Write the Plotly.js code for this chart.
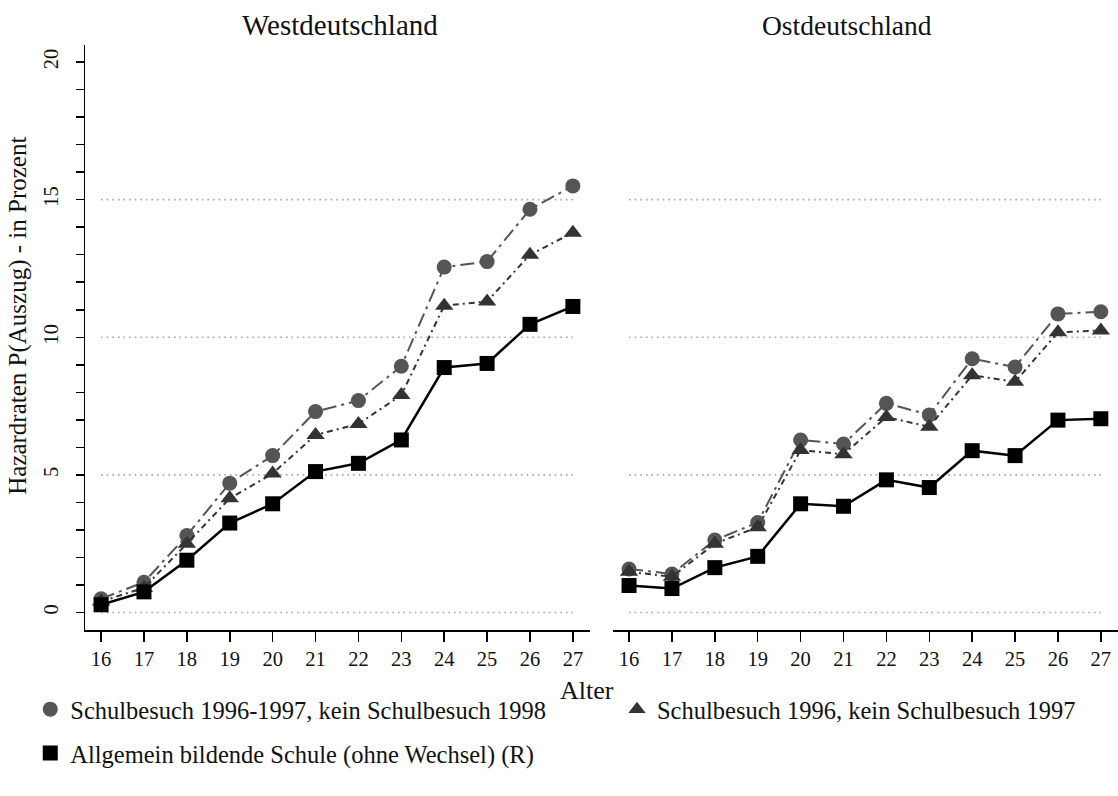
<!DOCTYPE html>
<html>
<head>
<meta charset="utf-8">
<script src="https://cdn.plot.ly/plotly-3.0.1.min.js"></script>
<style>html,body{margin:0;padding:0;background:#fff;}#chart{width:1118px;height:796px;}</style>
</head>
<body>
<div id="chart"></div>
<script>
// ---- data ----
const ages = [16,17,18,19,20,21,22,23,24,25,26,27];
const panelTitles = ["Westdeutschland", "Ostdeutschland"];
const seriesNames = [
  "Schulbesuch 1996-1997, kein Schulbesuch 1998",
  "Schulbesuch 1996, kein Schulbesuch 1997",
  "Allgemein bildende Schule (ohne Wechsel) (R)"
];
// Westdeutschland
const westCircle   = [0.5, 1.1, 2.8, 4.7, 5.7, 7.3, 7.7, 8.95, 12.55, 12.75, 14.65, 15.5];
const westTriangle = [0.4, 0.9, 2.5, 4.15, 5.05, 6.45, 6.85, 7.9, 11.15, 11.3, 13.0, 13.8];
const westSquare   = [0.28, 0.75, 1.9, 3.25, 3.95, 5.12, 5.42, 6.27, 8.9, 9.05, 10.47, 11.12];
// Ostdeutschland
const eastCircle   = [1.58, 1.4, 2.63, 3.27, 6.27, 6.12, 7.6, 7.18, 9.22, 8.92, 10.85, 10.93];
const eastTriangle = [1.48, 1.3, 2.5, 3.1, 5.9, 5.75, 7.1, 6.75, 8.62, 8.38, 10.18, 10.25];
const eastSquare   = [0.98, 0.87, 1.63, 2.04, 3.95, 3.86, 4.82, 4.54, 5.88, 5.7, 6.99, 7.04];
const yMinorTicks = [0,1,2,3,4,5,6,7,8,9,10,11,12,13,14,15,16,17,18,19,20];
const yMajorTicks = [0,5,10,15,20];
const gridValues = [0,5,10,15];
const xTitle = "Alter";
const yTitle = "Hazardraten P(Auszug) - in Prozent";

// ---- styles ----
const FONT = "Liberation Serif, Times New Roman, serif";
const styles = [
  {symbol:"circle", color:"#555555", dash:"14px,5px,3px,5px", width:2},
  {symbol:"triangle-up", color:"#333333", dash:"6px,4px,2px,4px", width:2},
  {symbol:"square", color:"#000000", dash:"solid", width:2.5}
];
const legendPos = [
  {id:"legend",  x:-0.053, y:-0.097},
  {id:"legend2", x:0.515,  y:-0.097},
  {id:"legend3", x:-0.053, y:-0.172}
];
const panels = [
  {xa:"x", ya:"y", data:[westCircle, westTriangle, westSquare]},
  {xa:"x2", ya:"y2", data:[eastCircle, eastTriangle, eastSquare]}
];

const traces = [];
panels.forEach(p => {
  p.data.forEach((vals, i) => {
    const s = styles[i];
    traces.push({
      x: ages, y: vals, xaxis: p.xa, yaxis: p.ya,
      type: "scatter", mode: "lines+markers",
      name: seriesNames[i], showlegend: false,
      line: {color: s.color, dash: s.dash, width: s.width},
      marker: {symbol: s.symbol, color: s.color, size: s.symbol === "triangle-up" ? 16 : 15}
    });
  });
});
// legend-only entries (markers only)
seriesNames.forEach((n, i) => {
  const s = styles[i];
  traces.push({
    x: [null], y: [null], xaxis: "x", yaxis: "y",
    type: "scatter", mode: "markers", name: n,
    legend: legendPos[i].id,
    marker: {symbol: s.symbol, color: s.color, size: 15}
  });
});

const shapes = [];
panels.forEach(p => {
  gridValues.forEach(g => {
    shapes.push({type:"line", xref:p.xa, yref:p.ya, layer:"below",
      x0: ages[0], x1: ages[ages.length-1], y0: g, y1: g,
      line:{color:"#a6a6a6", width:1.6, dash:"1.6px,4px"}});
  });
});

const yTickText = yMinorTicks.map(v => yMajorTicks.indexOf(v) >= 0 ? String(v) : "");
const xRange = [15.625, 27.4];
const yRange = [-0.636, 20.62];

const xBase = {
  range: xRange, tickvals: ages, ticktext: ages.map(String),
  showgrid:false, zeroline:false, showline:true, linecolor:"#000", linewidth:1.5,
  ticks:"outside", ticklen:10, tickwidth:1.5, tickcolor:"#000",
  tickfont:{family:FONT, size:20.5, color:"#111"}, fixedrange:true
};
const layout = {
  width:1118, height:796,
  margin:{l:85, r:0, t:45, b:166},
  paper_bgcolor:"#fff", plot_bgcolor:"#fff",
  font:{family:FONT, color:"#111"},
  xaxis: Object.assign({}, xBase, {domain:[0, 0.4889], anchor:"y"}),
  xaxis2: Object.assign({}, xBase, {domain:[0.5111, 1], anchor:"y2"}),
  yaxis: {
    range:yRange, tickvals:yMinorTicks, ticktext:yTickText, tickangle:-90,
    showgrid:false, zeroline:false, showline:true, linecolor:"#000", linewidth:1.5,
    ticks:"outside", ticklen:8, tickwidth:1.5, tickcolor:"#000", ticklabelstandoff:9,
    tickfont:{family:FONT, size:20.5, color:"#111"}, anchor:"x",
    fixedrange:true
  },
  yaxis2: {
    range:yRange, showgrid:false, zeroline:false, showline:false,
    showticklabels:false, ticks:"", anchor:"x2", fixedrange:true
  },
  shapes: shapes,
  annotations: [
    {text:panelTitles[0], xref:"paper", yref:"paper", x:0.2469, y:1, yshift:20,
     xanchor:"center", yanchor:"middle", showarrow:false, font:{family:FONT, size:29, color:"#111"}},
    {text:panelTitles[1], xref:"paper", yref:"paper", x:0.7377, y:1, yshift:20,
     xanchor:"center", yanchor:"middle", showarrow:false, font:{family:FONT, size:27.5, color:"#111"}},
    {text:xTitle, xref:"paper", yref:"paper", x:0.486, y:0, yshift:-60,
     xanchor:"center", yanchor:"middle", showarrow:false, font:{family:FONT, size:26, color:"#111"}},
    {text:yTitle, xref:"paper", yref:"paper", x:-0.0649, y:0.537, textangle:-90,
     xanchor:"center", yanchor:"middle", showarrow:false, font:{family:FONT, size:25, color:"#111"}}
  ]
};
legendPos.forEach(lp => {
  layout[lp.id] = {
    orientation:"h", x:lp.x, xanchor:"left", y:lp.y, yanchor:"top",
    itemsizing:"trace", font:{family:FONT, size:24.5, color:"#111"},
    bgcolor:"rgba(0,0,0,0)", itemclick:false
  };
});

Plotly.newPlot("chart", traces, layout, {displayModeBar:false, staticPlot:true});
</script>
</body>
</html>
